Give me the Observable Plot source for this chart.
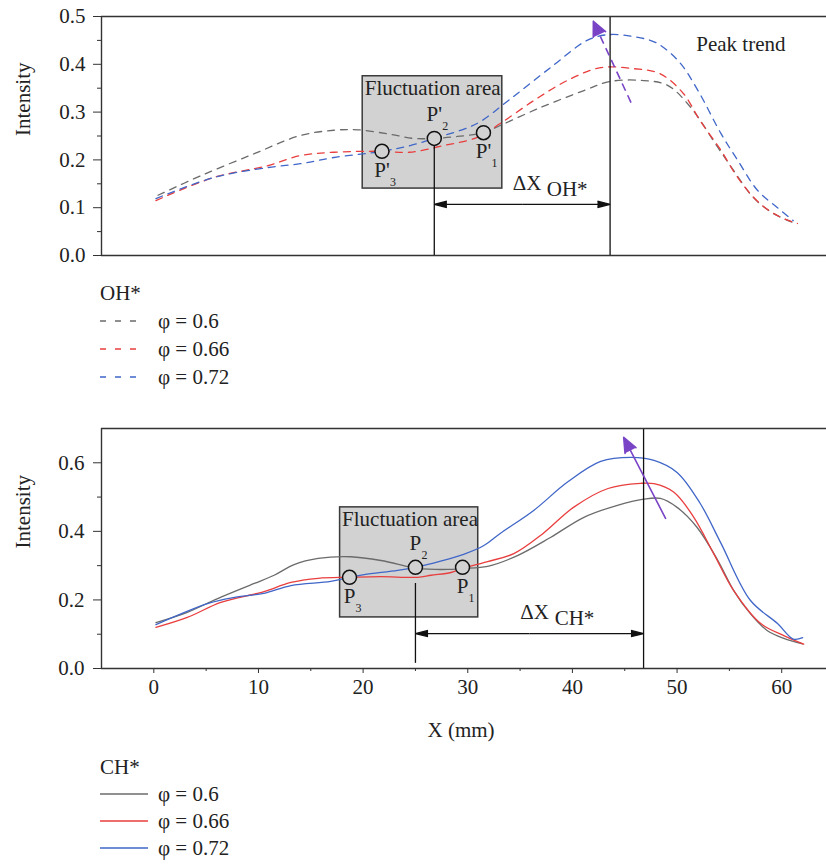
<!DOCTYPE html>
<html>
<head>
<meta charset="utf-8">
<script src="https://cdn.jsdelivr.net/npm/d3@7"></script>
<script src="https://cdn.jsdelivr.net/npm/@observablehq/plot@0.6"></script>
<style>
  body { margin: 0; background: #fff; }
  #page { position: relative; width: 826px; height: 866px; overflow: hidden;
          font-family: "Liberation Serif", "DejaVu Serif", serif; color: #222; }
  .chart { position: absolute; left: 0; }
  .legend { position: absolute; left: 100px; font-size: 21px; line-height: 28px; }
  .legend .row { display: flex; align-items: center; height: 28px; white-space: nowrap; }
  .legend svg { display: block; margin-right: 10px; }
</style>
</head>
<body>
<div id="page">
  <div id="ohChart" class="chart" style="top:0px"></div>
  <div id="ohLegend" class="legend" style="top:279px"></div>
  <div id="chChart" class="chart" style="top:400px"></div>
  <div id="chLegend" class="legend" style="top:753px"></div>
</div>
<script>
// Equivalence ratios and their colours
const phiLabels = ["φ = 0.6", "φ = 0.66", "φ = 0.72"];
const phiColors = ["#6b6b6b", "#e93e3e", "#3f66c8"];

// OH* chemiluminescence intensity along X (mm)
const ohPhi060 = [[0.4,0.126],[4.5,0.167],[9.6,0.213],[14.0,0.251],[17.2,0.262],[19.5,0.263],[22.5,0.254],
  [24.8,0.245],[26.8,0.245],[29.0,0.249],[31.5,0.257],[33.1,0.272],[37.0,0.310],[41.1,0.345],[43.6,0.364],
  [46.8,0.366],[49.1,0.356],[51.3,0.310],[53.9,0.226],[55.4,0.178],[57.3,0.121],[59.2,0.088],[61.1,0.069]];
const ohPhi066 = [[0.2,0.115],[5.7,0.163],[10.9,0.188],[14.0,0.209],[17.2,0.216],[21.8,0.218],[24.4,0.216],
  [27.7,0.230],[30.9,0.247],[33.1,0.276],[36.3,0.324],[39.5,0.366],[42.7,0.393],[45.8,0.391],[48.4,0.380],
  [50.6,0.339],[52.2,0.282],[54.2,0.220],[55.8,0.163],[57.9,0.109],[59.9,0.080],[61.5,0.067]];
const ohPhi072 = [[0.2,0.119],[5.7,0.163],[10.9,0.184],[14.0,0.192],[17.2,0.205],[21.8,0.218],[24.5,0.230],
  [26.8,0.245],[29.7,0.265],[31.2,0.280],[34.1,0.328],[37.9,0.393],[41.4,0.450],[43.4,0.462],[45.8,0.458],
  [48.0,0.445],[50.2,0.405],[52.0,0.345],[54.2,0.255],[55.8,0.199],[57.7,0.136],[59.6,0.100],[61.1,0.073]];

// CH* chemiluminescence intensity along X (mm)
const chPhi060 = [[0.2,0.134],[3.2,0.164],[6.1,0.204],[9.6,0.248],[11.5,0.272],[13.4,0.303],[15.7,0.321],
  [18.8,0.326],[21.7,0.315],[24.3,0.297],[25.2,0.292],[28.1,0.289],[29.5,0.292],[31.9,0.298],[34.8,0.330],
  [37.9,0.382],[41.1,0.441],[44.3,0.476],[46.8,0.494],[48.4,0.496],[50.0,0.470],[51.9,0.412],[53.9,0.315],
  [55.4,0.228],[57.0,0.160],[58.6,0.111],[60.2,0.088],[62.0,0.072]];
const chPhi066 = [[0.2,0.120],[3.2,0.149],[6.4,0.193],[9.9,0.219],[10.9,0.228],[13.1,0.251],[15.7,0.263],
  [18.7,0.266],[21.7,0.268],[25.2,0.266],[26.5,0.272],[28.4,0.280],[29.5,0.292],[31.9,0.312],[34.4,0.335],
  [37.2,0.394],[40.1,0.470],[43.4,0.525],[46.5,0.540],[47.8,0.539],[49.7,0.514],[51.6,0.441],[53.5,0.335],
  [55.4,0.228],[58.0,0.131],[60.2,0.096],[62.1,0.071]];
const chPhi072 = [[0.2,0.128],[5.2,0.190],[7.6,0.207],[10.5,0.219],[13.1,0.242],[16.9,0.254],[18.7,0.266],
  [20.1,0.274],[23.3,0.286],[25.0,0.295],[27.4,0.313],[29.6,0.333],[31.5,0.358],[33.1,0.394],[36.3,0.461],
  [39.5,0.543],[42.7,0.604],[45.6,0.616],[47.8,0.607],[50.0,0.572],[52.2,0.482],[54.2,0.365],[57.0,0.199],
  [59.6,0.131],[61.1,0.086],[62.0,0.090]];

// Marked points in the fluctuation area
const ohPoints = [
  {name: "P'", sub: "3", x: 21.8, y: 0.218, place: "below"},
  {name: "P'", sub: "2", x: 26.8, y: 0.245, place: "above"},
  {name: "P'", sub: "1", x: 31.5, y: 0.257, place: "below"}
];
const chPoints = [
  {name: "P", sub: "3", x: 18.7, y: 0.266, place: "below"},
  {name: "P", sub: "2", x: 25.0, y: 0.295, place: "above"},
  {name: "P", sub: "1", x: 29.5, y: 0.295, place: "below"}
];

// Fluctuation area boxes (x in mm, y in intensity)
const ohBox = {x1: 19.96, x2: 33.3, y1: 0.140, y2: 0.375, label: "Fluctuation area"};
const chBox = {x1: 17.8, x2: 31.0, y1: 0.149, y2: 0.470, label: "Fluctuation area"};

// Peak-position shift ΔX and its reference lines
const ohDelta = {x1: 26.8, x2: 43.6, y: 0.107, start: 0, stop: 0.245, name: "OH*"};
const chDelta = {x1: 25.0, x2: 46.8, y: 0.102, start: 0.015, stop: 0.248, name: "CH*"};

// Peak trend arrows
const ohTrend = {x1: 45.6, y1: 0.320, x2: 42.0, y2: 0.490};
const chTrend = {x1: 48.9, y1: 0.438, x2: 44.9, y2: 0.674};
const ohNote = {x: 56.1, y: 0.441, text: "Peak trend"};

// Axis ticks
const xDomain = [-5, 64.28];
const xMajor = [0, 10, 20, 30, 40, 50, 60];
const xMinor = [5, 15, 25, 35, 45, 55];
const ohYMajor = [0, 0.1, 0.2, 0.3, 0.4, 0.5];
const ohYMinor = [0.05, 0.15, 0.25, 0.35, 0.45];
const chYMajor = [0, 0.2, 0.4, 0.6];
const chYMinor = [0.1, 0.3, 0.5];

const purple = "#7a44c6";
const ink = "#222";
const fs = 21;
const fmt1 = d3.format(".1f");

function rows(seriesList) {
  return seriesList.flatMap((s, k) => s.map(([x, y]) => ({x, y, phi: phiLabels[k]})));
}

function pointLabels(points) {
  const below = points.filter(p => p.place === "below");
  const above = points.filter(p => p.place === "above");
  const subDx = p => p.name.length > 1 ? 11 : 9;
  return [
    Plot.text(below, {x: "x", y: "y", text: "name", dy: 19, fill: ink, fontSize: fs}),
    Plot.text(below, {x: "x", y: "y", text: "sub", dx: subDx(below[0]), dy: 31, fill: ink, fontSize: 12}),
    Plot.text(above, {x: "x", y: "y", text: "name", dy: -24, fill: ink, fontSize: fs}),
    Plot.text(above, {x: "x", y: "y", text: "sub", dx: subDx(above[0]), dy: -12, fill: ink, fontSize: 12})
  ];
}

function deltaMarks(delta, peakTop) {
  const mid = (delta.x1 + delta.x2) / 2;
  const halves = [
    {x1: mid, x2: delta.x1, y: delta.y},
    {x1: mid, x2: delta.x2, y: delta.y}
  ];
  return [
    Plot.ruleX([delta], {x: "x1", y1: "start", y2: "stop", stroke: "#111", strokeWidth: 1.3}),
    Plot.ruleX([delta], {x: "x2", y1: () => 0, y2: () => peakTop, stroke: "#111", strokeWidth: 1.3}),
    Plot.arrow(halves, {x1: "x1", y1: "y", x2: "x2", y2: "y", stroke: "#111", fill: "#111",
      strokeWidth: 1.3, headLength: 15, headAngle: 28, strokeLinecap: "butt"}),
    Plot.text([{x: mid, y: delta.y}], {x: "x", y: "y", text: () => "ΔX", dx: 5, dy: -21, fill: ink, fontSize: fs}),
    Plot.text([{x: mid, y: delta.y}], {x: "x", y: "y", text: () => delta.name, dx: 45, dy: -15, fill: ink, fontSize: fs})
  ];
}

function frame(yTop, yMajor, yMinor, tickPad) {
  return [
    Plot.ruleY([0, yTop], {stroke: "#333", strokeWidth: 1.4}),
    Plot.ruleX([xDomain[0]], {stroke: "#333", strokeWidth: 1.4}),
    Plot.axisY({ticks: yMajor, tickSize: 8, tickPadding: tickPad, tickFormat: fmt1, stroke: "#333", fill: ink, label: null}),
    Plot.axisY({ticks: yMinor, tickSize: 4, tickFormat: () => "", stroke: "#333", label: null})
  ];
}

function yTitle() {
  return Plot.text(["Intensity"], {frameAnchor: "left", text: d => d, rotate: -90, dx: -78, fill: ink, fontSize: fs});
}

const baseStyle = {fontFamily: "'Liberation Serif', 'DejaVu Serif', serif", fontSize: fs + "px", color: ink, background: "transparent", overflow: "visible"};

// OH* chart
const ohPlot = Plot.plot({
  width: 826, height: 265,
  marginLeft: 101, marginRight: 0, marginTop: 16, marginBottom: 10,
  style: baseStyle,
  x: {domain: xDomain, axis: null, label: null},
  y: {domain: [0, 0.5], axis: null, label: null},
  color: {domain: phiLabels, range: phiColors},
  marks: [
    Plot.rect([ohBox], {x1: "x1", x2: "x2", y1: "y1", y2: "y2", fill: "#d2d2d2", stroke: "#3a3a3a", strokeWidth: 1.5}),
    Plot.text([ohBox], {x: "x1", y: "y2", text: "label", textAnchor: "start", dx: 2, dy: 12, fill: ink, fontSize: fs}),
    Plot.line(rows([ohPhi060, ohPhi066, ohPhi072]), {x: "x", y: "y", z: "phi", stroke: "phi",
      curve: "catmull-rom", strokeDasharray: "7 6", strokeWidth: 1.3}),
    ...deltaMarks(ohDelta, 0.5),
    Plot.link([ohTrend], {x1: "x1", y1: "y1", x2: "x2", y2: "y2", stroke: purple, strokeWidth: 1.6, strokeDasharray: "8 5"}),
    Plot.arrow([ohTrend], {x1: "x1", y1: "y1", x2: "x2", y2: "y2", stroke: purple, fill: purple,
      strokeWidth: 1.6, headLength: 15, headAngle: 50, insetStart: 78}),
    Plot.text([ohNote], {x: "x", y: "y", text: "text", fill: ink, fontSize: fs}),
    Plot.dot(ohPoints, {x: "x", y: "y", r: 7, stroke: "#111", strokeWidth: 1.5, fill: "#d2d2d2"}),
    ...pointLabels(ohPoints),
    ...frame(0.5, ohYMajor, ohYMinor, 8),
    yTitle()
  ]
});
document.getElementById("ohChart").append(ohPlot);

// CH* chart
const chPlot = Plot.plot({
  width: 826, height: 345,
  marginLeft: 101, marginRight: 0, marginTop: 28, marginBottom: 77,
  style: baseStyle,
  x: {domain: xDomain, axis: null, label: null},
  y: {domain: [0, 0.7], axis: null, label: null},
  color: {domain: phiLabels, range: phiColors},
  marks: [
    Plot.rect([chBox], {x1: "x1", x2: "x2", y1: "y1", y2: "y2", fill: "#d2d2d2", stroke: "#3a3a3a", strokeWidth: 1.5}),
    Plot.text([chBox], {x: "x1", y: "y2", text: "label", textAnchor: "start", dx: 2, dy: 12, fill: ink, fontSize: fs}),
    Plot.line(rows([chPhi060, chPhi066, chPhi072]), {x: "x", y: "y", z: "phi", stroke: "phi",
      curve: "catmull-rom", strokeWidth: 1.3}),
    ...deltaMarks(chDelta, 0.7),
    Plot.arrow([chTrend], {x1: "x1", y1: "y1", x2: "x2", y2: "y2", stroke: purple, fill: purple,
      strokeWidth: 1.6, headLength: 15, headAngle: 45}),
    Plot.dot(chPoints, {x: "x", y: "y", r: 7, stroke: "#111", strokeWidth: 1.5, fill: "#d2d2d2"}),
    ...pointLabels(chPoints),
    ...frame(0.7, chYMajor, chYMinor, 9),
    Plot.axisX({ticks: xMajor, tickSize: 5, tickPadding: 6, tickFormat: d => d, stroke: "#333", fill: ink, label: null}),
    Plot.axisX({ticks: xMinor, tickSize: 3, tickFormat: () => "", stroke: "#333", label: null}),
    Plot.text(["X (mm)"], {frameAnchor: "bottom", text: d => d, dy: 68, dx: -3, fill: ink, fontSize: fs}),
    yTitle()
  ]
});
document.getElementById("chChart").append(chPlot);

// Legends
function legend(el, title, dashed, rowHeight) {
  const box = document.getElementById(el);
  const head = document.createElement("div");
  head.className = "row";
  head.style.height = rowHeight + "px";
  head.textContent = title;
  box.append(head);
  phiLabels.forEach((lab, i) => {
    const row = document.createElement("div");
    row.className = "row";
    row.style.height = rowHeight + "px";
    const w = 48;
    const svg = d3.create("svg").attr("width", w).attr("height", 10);
    svg.append("line").attr("x1", 0).attr("x2", dashed ? 42 : w).attr("y1", 5).attr("y2", 5)
      .attr("stroke", phiColors[i]).attr("stroke-width", 1.3)
      .attr("stroke-dasharray", dashed ? "6 9" : null);
    row.append(svg.node());
    const t = document.createElement("span");
    t.textContent = lab;
    row.append(t);
    box.append(row);
  });
}
legend("ohLegend", "OH*", true, 28);
legend("chLegend", "CH*", false, 27);
</script>
</body>
</html>
